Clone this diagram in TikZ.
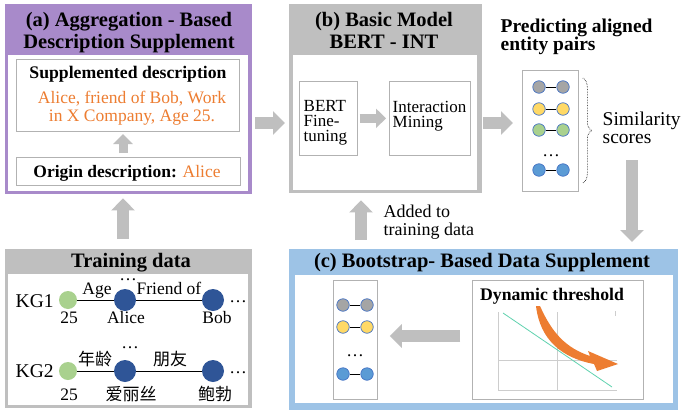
\documentclass[tikz,border=0pt]{standalone}
\usepackage{fontspec}
\setmainfont{Liberation Serif}
\newfontfamily\cjk{Noto Sans CJK SC}
\usetikzlibrary{arrows.meta, decorations.pathreplacing}

\definecolor{panelpurple}{RGB}{168,138,202}
\definecolor{panelgray}{RGB}{191,191,191}
\definecolor{panelblue}{RGB}{157,195,230}
\definecolor{boxline}{RGB}{178,178,178}
\definecolor{supporange}{RGB}{237,125,49}
\definecolor{kggreen}{RGB}{169,209,142}
\definecolor{kgblue}{RGB}{47,85,151}
\definecolor{pairgray}{RGB}{165,165,165}
\definecolor{pairyellow}{RGB}{255,217,102}
\definecolor{pairgreen}{RGB}{169,209,142}
\definecolor{pairblue}{RGB}{91,155,213}
\definecolor{pairedge}{RGB}{68,114,196}
\definecolor{threshteal}{RGB}{96,210,175}
\definecolor{axisgray}{RGB}{205,205,205}

\tikzset{
  panel/.style={rectangle, inner sep=0pt, anchor=north west},
  inbox/.style={panel, draw=boxline, line width=1pt, fill=white},
  fatarrow/.style={draw=panelgray, line width=12pt, -{Triangle[length=12pt,width=23pt]}},
  smallarrow/.style={draw=panelgray, line width=9pt, -{Triangle[length=10pt,width=19pt]}},
  titletext/.style={font=\fontsize{20.5}{21}\selectfont\bfseries, align=center, anchor=base, inner sep=0.5pt},
  headtext/.style={font=\fontsize{17.7}{18}\selectfont\bfseries, anchor=base, inner sep=0.5pt},
  bodytext/.style={font=\fontsize{17.5}{18}\selectfont, anchor=base, inner sep=0.5pt},
  kgtext/.style={font=\fontsize{17.5}{18}\selectfont, anchor=base, inner sep=0.5pt},
  cjktext/.style={font=\fontsize{17}{18}\selectfont\cjk, anchor=base, inner sep=0.5pt},
  pairnode/.style={circle, draw=pairedge, line width=0.7pt, minimum size=12.5pt, inner sep=0pt},
  kgnode/.style={circle, inner sep=0pt}
}

\begin{document}
\begin{tikzpicture}[x=1pt, y=-1pt]
\useasboundingbox (0,0) rectangle (685,415);

\draw
  (5,4) node[panel, fill=panelpurple, minimum width=247pt, minimum height=190pt] (aggpanel) {}
  (8,55) node[panel, fill=white, minimum width=240pt, minimum height=136pt] (agginner) {}
  (16,59) node[inbox, minimum width=223pt, minimum height=72pt] (suppbox) {}
  (16,157) node[inbox, minimum width=224pt, minimum height=28pt] (origbox) {}

  (289,4) node[panel, fill=panelgray, minimum width=193pt, minimum height=189pt] (basepanel) {}
  (293,55) node[panel, fill=white, minimum width=184pt, minimum height=135pt] (baseinner) {}
  (299,81) node[inbox, line width=0.7pt, minimum width=58pt, minimum height=74pt] (bertbox) {}
  (389,81) node[inbox, line width=0.7pt, minimum width=81pt, minimum height=74pt] (interbox) {}

  (522,70) node[inbox, line width=0.8pt, minimum width=56pt, minimum height=121pt] (pairbox) {}

  (5,249) node[panel, fill=panelgray, minimum width=247pt, minimum height=159pt] (trainpanel) {}
  (8,274) node[panel, fill=white, minimum width=240pt, minimum height=131pt] (traininner) {}

  (289,249) node[panel, fill=panelblue, minimum width=389pt, minimum height=161pt] (bootpanel) {}
  (295,275) node[panel, fill=white, minimum width=378pt, minimum height=128pt] (bootinner) {}
  (333,280) node[inbox, line width=0.8pt, minimum width=44pt, minimum height=119pt] (keptbox) {}
  (472,280) node[inbox, line width=0.8pt, minimum width=171pt, minimum height=119pt] (threshbox) {};

\draw
  (129,48) node[titletext] (aggtitle) {(a) Aggregation - Based\\Description Supplement}
  (128,78) node[headtext] (supptitle) {Supplemented description}
  (132,121) node[bodytext, align=center, text=supporange] (supptext) {Alice, friend of Bob, Work\\in X Company, Age 25.}
  (127,177) node[bodytext] (origtext) {\textbf{Origin description:} \textcolor{supporange}{Alice}}

  (384,48) node[titletext] (basetitle) {(b) Basic Model\\BERT - INT}
  (303,141) node[bodytext, anchor=base west, align=left, font=\fontsize{17}{15}\selectfont] (berttext) {BERT\\Fine-\\tuning}
  (392,127) node[bodytext, anchor=base west, align=left, font=\fontsize{17}{15}\selectfont] (intertext) {Interaction\\Mining}

  (500,50) node[headtext, anchor=base west, align=left, font=\fontsize{19.5}{18}\selectfont\bfseries] (predtitle) {Predicting aligned\\entity pairs}
  (602,143) node[bodytext, anchor=base west, align=left, font=\fontsize{19.5}{18}\selectfont] (simtext) {Similarity\\scores}

  (131,267) node[titletext] (traintitle) {Training data}
  (482,267) node[titletext] (boottitle) {(c) Bootstrap- Based Data Supplement}
  (383,235) node[bodytext, anchor=base west, align=left, font=\fontsize{18}{18}\selectfont] (addtext) {Added to\\training data}
  (552,300) node[headtext] (threshtitle) {Dynamic threshold};

\draw
  (539,87) node[pairnode, fill=pairgray] (pl1) {}
  (563,87) node[pairnode, fill=pairgray] (pr1) {}
  (539,109) node[pairnode, fill=pairyellow] (pl2) {}
  (563,109) node[pairnode, fill=pairyellow] (pr2) {}
  (539,130) node[pairnode, fill=pairgreen] (pl3) {}
  (563,130) node[pairnode, fill=pairgreen] (pr3) {}
  (551,156) node[bodytext] (pdots) {\dots}
  (539,170) node[pairnode, fill=pairblue] (pl4) {}
  (563,170) node[pairnode, fill=pairblue] (pr4) {}

  (343,305) node[pairnode, fill=pairgray] (kl1) {}
  (367,305) node[pairnode, fill=pairgray] (kr1) {}
  (343,327) node[pairnode, fill=pairyellow] (kl2) {}
  (367,327) node[pairnode, fill=pairyellow] (kr2) {}
  (355,356) node[bodytext] (kdots) {\dots}
  (343,374) node[pairnode, fill=pairblue] (kl3) {}
  (367,374) node[pairnode, fill=pairblue] (kr3) {};

\draw[line width=0.8pt]
  (pl1) -- (pr1)
  (pl2) -- (pr2)
  (pl3) -- (pr3)
  (pl4) -- (pr4)
  (kl1) -- (kr1)
  (kl2) -- (kr2)
  (kl3) -- (kr3);

\draw[densely dotted, line width=0.6pt, decorate, decoration={brace, amplitude=9pt}]
  (pairbox.north east) ++(4,8) -- ++(0,105);

\draw
  (15,307) node[kgtext, anchor=base west, font=\fontsize{19.5}{18}\selectfont] (kg1label) {KG1}
  (68,300) node[kgnode, fill=kggreen, minimum size=18pt] (kg1v) {}
  (125,300) node[kgnode, fill=kgblue, minimum size=22pt] (kg1a) {}
  (213,300) node[kgnode, fill=kgblue, minimum size=22pt] (kg1b) {}
  (15,377) node[kgtext, anchor=base west, font=\fontsize{19.5}{18}\selectfont] (kg2label) {KG2}
  (68,371) node[kgnode, fill=kggreen, minimum size=18pt] (kg2v) {}
  (125,371) node[kgnode, fill=kgblue, minimum size=22pt] (kg2a) {}
  (213,371) node[kgnode, fill=kgblue, minimum size=22pt] (kg2b) {};

\draw[line width=0.8pt]
  (kg1v) -- (kg1a) -- (kg1b)
  (kg2v) -- (kg2a) -- (kg2b);

\draw
  (97,294) node[kgtext] {Age}
  (169,294) node[kgtext] {Friend of}
  (128,280) node[kgtext] {\dots}
  (238,302) node[kgtext] {\dots}
  (69,323) node[kgtext] {25}
  (126,323) node[kgtext] {Alice}
  (217,323) node[kgtext] {Bob}
  (95,365) node[cjktext] {年龄}
  (170,365) node[cjktext] {朋友}
  (130,348) node[kgtext] {\dots}
  (238,373) node[kgtext] {\dots}
  (69,400) node[kgtext] {25}
  (131,400) node[cjktext] {爱丽丝}
  (215,400) node[cjktext] {鲍勃};

\draw[axisgray, line width=0.8pt]
  (498,312) -- (498,390) -- (617,390)
  (498,360) -- (617,360)
  (557,312) -- (557,390)
  (615,311) -- (615,316);
\draw[threshteal, line width=0.8pt] (503,313) -- (612,387);
\fill[supporange]
  (540,306) .. controls (552,333) and (566,348) .. (590,356)
  -- (588,351) -- (618,364) -- (597,371) -- (594,364)
  .. controls (562,358) and (540,340) .. (536,306) -- cycle;

\coordinate (rowmid) at (0,123);
\coordinate (acol) at (123,0);
\coordinate (bcol) at (361,0);
\coordinate (crow) at (0,336);
\coordinate (scoreout) at (632,160);

\draw[fatarrow, shorten <=3pt, shorten >=4pt] (aggpanel.east |- rowmid) -- (basepanel.west |- rowmid);
\draw[fatarrow, shorten <=1pt, shorten >=9pt] (basepanel.east |- rowmid) -- (pairbox.west |- rowmid);
\draw[smallarrow, shorten <=2pt, shorten >=3pt] (bertbox.east) -- (interbox.west);
\draw[smallarrow, shorten <=4pt, shorten >=2pt] (origbox.north -| acol) -- (suppbox.south -| acol);
\draw[fatarrow, shorten <=10pt, shorten >=4pt] (trainpanel.north -| acol) -- (aggpanel.south -| acol);
\draw[fatarrow, shorten <=9pt, shorten >=7pt] (bootpanel.north -| bcol) -- (basepanel.south -| bcol);
\draw[fatarrow, shorten >=7pt] (scoreout) -- (scoreout |- bootpanel.north);
\draw[fatarrow, shorten <=12pt, shorten >=12pt] (threshbox.west |- crow) -- (keptbox.east |- crow);
\end{tikzpicture}
\end{document}
